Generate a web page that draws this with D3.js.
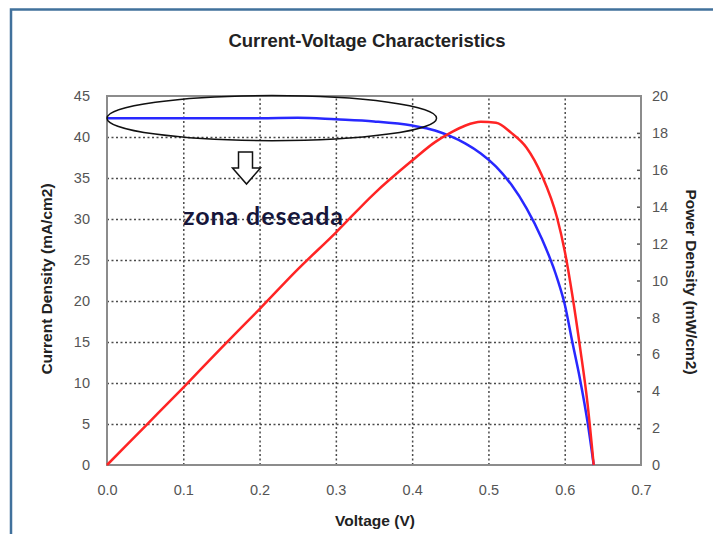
<!DOCTYPE html>
<html>
<head>
<meta charset="utf-8">
<script src="https://cdn.jsdelivr.net/npm/d3@7"></script>
<style>
  body { margin: 0; background: #fff; }
  svg { display: block; }
</style>
</head>
<body>
<div id="chart"></div>
<script>
// values
var voltage = [0, 0.05, 0.1, 0.15, 0.2, 0.25, 0.3, 0.35, 0.4, 0.43, 0.45, 0.47, 0.49, 0.51, 0.53, 0.55, 0.57, 0.59, 0.60, 0.61, 0.62, 0.63, 0.638];
var currentDensity = [42.3, 42.3, 42.3, 42.3, 42.3, 42.35, 42.15, 41.9, 41.4, 40.8, 40.1, 39.2, 38.0, 36.4, 34.2, 31.3, 27.6, 22.8, 19.6, 15.0, 10.5, 5.2, 0];
var powerDensity = [0, 2.1, 4.2, 6.35, 8.45, 10.6, 12.6, 14.7, 16.5, 17.5, 18.0, 18.4, 18.6, 18.55, 18.0, 17.2, 15.7, 13.4, 11.6, 9.2, 6.4, 3.3, 0];

var voltageTicks = [0, 0.1, 0.2, 0.3, 0.4, 0.5, 0.6, 0.7];
var currentTicks = [0, 5, 10, 15, 20, 25, 30, 35, 40, 45];
var powerTicks = [0, 2, 4, 6, 8, 10, 12, 14, 16, 18, 20];

var svgWidth = 713, svgHeight = 534;
var margin = { top: 96, right: 72, bottom: 69, left: 107 };
var width = 641 - margin.left;
var height = 465 - margin.top;

var svg = d3.select("#chart")
  .append("svg")
  .attr("width", svgWidth)
  .attr("height", svgHeight)
  .style("font-family", "'Liberation Sans', Arial, sans-serif");

// outer frame (blue lines top and left)
svg.append("path")
  .attr("d", "M11,534 L11,9.5 L713,9.5")
  .attr("fill", "none")
  .attr("stroke", "#41719c")
  .attr("stroke-width", 2.5);

var chartGroup = svg.append("g")
  .attr("transform", `translate(${margin.left}, ${margin.top})`);

var xScale = d3.scaleLinear().domain([0, 0.7]).range([0, width]);
var yLeft = d3.scaleLinear().domain([0, 45]).range([height, 0]);
var yRight = d3.scaleLinear().domain([0, 20]).range([height, 0]);

// dotted grid
chartGroup.append("g")
  .attr("class", "grid")
  .attr("transform", `translate(0, ${height})`)
  .call(d3.axisBottom(xScale).tickValues(voltageTicks.slice(1, -1)).tickSize(-height).tickFormat(""));
chartGroup.append("g")
  .attr("class", "grid")
  .call(d3.axisLeft(yLeft).tickValues(currentTicks.slice(1, -1)).tickSize(-width).tickFormat(""));
chartGroup.selectAll(".grid .domain").remove();
chartGroup.selectAll(".grid line")
  .attr("stroke", "#4a4a4a")
  .attr("stroke-width", 1.5)
  .attr("stroke-dasharray", "2,2.5");

// small inside ticks on the right axis
chartGroup.append("g")
  .attr("transform", `translate(${width}, 0)`)
  .call(d3.axisLeft(yRight).tickValues(powerTicks.slice(1, -1)).tickSize(4).tickFormat(""))
  .call(function(g) { g.select(".domain").remove(); })
  .selectAll("line").attr("stroke", "#555").attr("stroke-width", 1.5);

// plot frame
chartGroup.append("rect")
  .attr("width", width)
  .attr("height", height)
  .attr("fill", "none")
  .attr("stroke", "#8c8c8c")
  .attr("stroke-width", 2);

// tick labels
var bottomAxis = chartGroup.append("g")
  .attr("transform", `translate(0, ${height})`)
  .call(d3.axisBottom(xScale).tickValues(voltageTicks).tickSize(0).tickPadding(20).tickFormat(d3.format(".1f")));
var leftAxis = chartGroup.append("g")
  .call(d3.axisLeft(yLeft).tickValues(currentTicks).tickSize(0).tickPadding(17));
var rightAxis = chartGroup.append("g")
  .attr("transform", `translate(${width}, 0)`)
  .call(d3.axisRight(yRight).tickValues(powerTicks).tickSize(0).tickPadding(11));
[bottomAxis, leftAxis, rightAxis].forEach(function(g) {
  g.select(".domain").remove();
  g.selectAll("text")
    .attr("fill", "#555")
    .style("font-size", "14.5px")
    .style("font-family", "'Liberation Sans Narrow', 'Liberation Sans', Arial, sans-serif");
});

// curves
var ivLine = d3.line()
  .x(function(d, i) { return xScale(voltage[i]); })
  .y(function(d) { return yLeft(d); })
  .curve(d3.curveMonotoneX);
var powerLine = d3.line()
  .x(function(d, i) { return xScale(voltage[i]); })
  .y(function(d) { return yRight(d); })
  .curve(d3.curveMonotoneX);

chartGroup.append("path")
  .datum(currentDensity)
  .attr("d", ivLine)
  .attr("fill", "none")
  .attr("stroke", "#2828ff")
  .attr("stroke-width", 2.5);

chartGroup.append("path")
  .datum(powerDensity)
  .attr("d", powerLine)
  .attr("fill", "none")
  .attr("stroke", "#ff2424")
  .attr("stroke-width", 2.5);

// annotation: ellipse round the flat part, hollow arrow and text
chartGroup.append("ellipse")
  .attr("cx", xScale(0.216))
  .attr("cy", yLeft(42.3))
  .attr("rx", xScale(0.216) - xScale(0))
  .attr("ry", yLeft(0) - yLeft(2.75))
  .attr("fill", "none")
  .attr("stroke", "#111")
  .attr("stroke-width", 1.5);

var ax = 246.5 - margin.left, ay = 152 - margin.top;
chartGroup.append("path")
  .attr("d", `M${ax - 8},${ay} L${ax + 6},${ay} L${ax + 6},${ay + 16} L${ax + 14},${ay + 16} L${ax},${ay + 32} L${ax - 14},${ay + 16} L${ax - 8},${ay + 16} Z`)
  .attr("fill", "#fff")
  .attr("stroke", "#111")
  .attr("stroke-width", 1.5);

svg.append("text")
  .attr("x", 183)
  .attr("y", 225)
  .attr("fill", "#16163a")
  .attr("textLength", 160)
  .style("font-family", "Lato, 'Open Sans', sans-serif")
  .style("font-weight", "bold")
  .style("font-size", "25px")
  .text("zona deseada");

// titles
svg.append("text")
  .attr("x", 367)
  .attr("y", 47)
  .attr("text-anchor", "middle")
  .attr("fill", "#222")
  .style("font-size", "18.5px")
  .style("font-weight", "bold")
  .text("Current-Voltage Characteristics");

svg.append("text")
  .attr("transform", "translate(52, 279) rotate(-90)")
  .attr("text-anchor", "middle")
  .attr("fill", "#222")
  .style("font-size", "15.5px")
  .style("font-weight", "bold")
  .text("Current Density (mA/cm2)");

svg.append("text")
  .attr("transform", "translate(686, 282) rotate(90)")
  .attr("text-anchor", "middle")
  .attr("fill", "#222")
  .style("font-size", "15.5px")
  .style("font-weight", "bold")
  .text("Power Density (mW/cm2)");

svg.append("text")
  .attr("x", 375)
  .attr("y", 526)
  .attr("text-anchor", "middle")
  .attr("fill", "#222")
  .style("font-size", "15.5px")
  .style("font-weight", "bold")
  .text("Voltage (V)");
</script>
</body>
</html>
